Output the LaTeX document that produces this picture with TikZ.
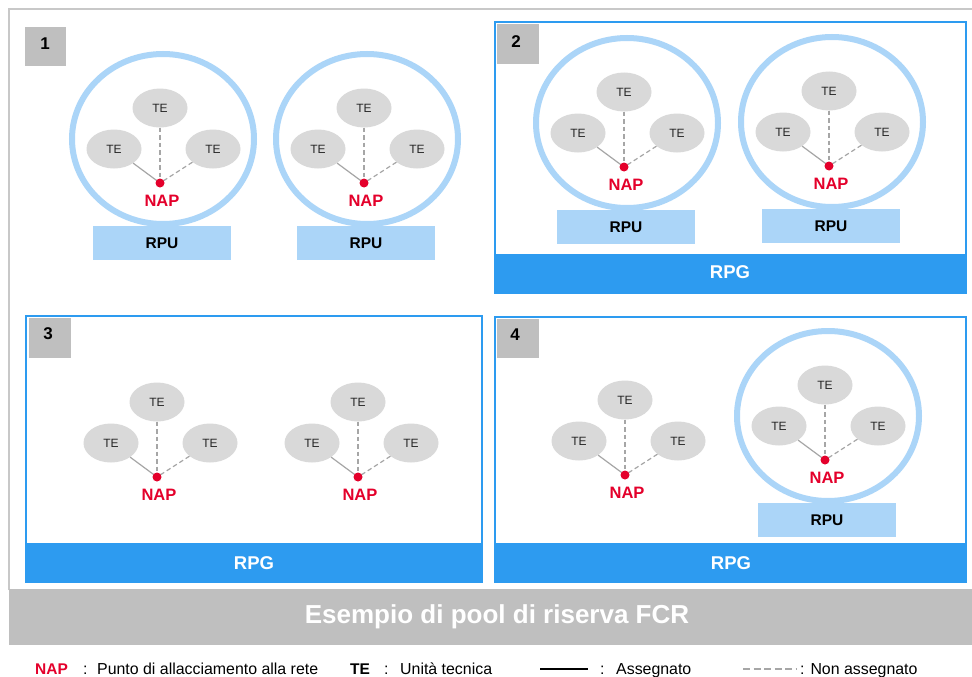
\documentclass[tikz,border=0pt]{standalone}
\usepackage{fontspec}
\setmainfont{Liberation Sans}
\usetikzlibrary{shapes.geometric}
\definecolor{lblue}{HTML}{ABD5F8}
\definecolor{fblue}{HTML}{2D9BF0}
\definecolor{tegray}{HTML}{D9D9D9}
\definecolor{boxgray}{HTML}{BFBFBF}
\definecolor{napred}{HTML}{E4002B}
\definecolor{lngray}{HTML}{A6A6A6}
\definecolor{framegray}{HTML}{C8C8C8}
\newcommand\fs[1]{\fontsize{#1}{#1}\selectfont}
\tikzset{
  teell/.style={ellipse, fill=tegray, minimum width=55pt, minimum height=39pt, inner sep=0pt, text=black!85, font=\fs{12}},
  napdot/.style={circle, fill=napred, minimum size=9pt, inner sep=0pt},
  naptxt/.style={text=napred, font=\fs{16.5}\bfseries, inner sep=0pt},
  solidln/.style={draw=lngray, line width=1.2pt},
  dashln/.style={draw=lngray, line width=1.2pt, dash pattern=on 4.5pt off 3pt},
  bigcirc/.style={ellipse, draw=lblue, line width=6pt, minimum width=182pt, minimum height=170pt, inner sep=0pt},
  rpubox/.style={rectangle, fill=lblue, minimum width=138pt, minimum height=34pt, inner sep=0pt, font=\fs{15.5}\bfseries},
  panelframe/.style={draw=fblue, line width=2.5pt},
  rpgbar/.style={fill=fblue},
  rpgtxt/.style={text=white, font=\fs{18.5}\bfseries, inner sep=0pt},
  numbox/.style={fill=boxgray},
  numtxt/.style={font=\fs{17}\bfseries, inner sep=0pt},
  legtxt/.style={font=\fs{15.9}, anchor=base west, inner sep=0pt},
}
% cluster of TE around NAP: name, x, y of the NAP dot
\newcommand\tecl[3]{%
  \node[teell] (#1t) at (#2,#3-75) {TE};
  \node[teell] (#1l) at (#2-46,#3-34) {TE};
  \node[teell] (#1r) at (#2+53,#3-34) {TE};
  \draw[solidln] (#1l) -- (#2,#3);
  \draw[dashln] (#1t) -- (#2,#3);
  \draw[dashln] (#1r) -- (#2,#3);
  \node[napdot] (#1d) at (#2,#3) {};
  \node[naptxt] (#1n) at (#2+2,#3+18) {NAP};
}
\newcommand\rpucl[3]{%
  \node[bigcirc] (#1c) at (#2+3,#3-44) {};
  \node[rpubox] (#1u) at (#2+2,#3+60) {RPU};
}
\begin{document}
\begin{tikzpicture}[x=1pt,y=-1pt]
\useasboundingbox (0,0) rectangle (972,677);
\fill[white] (0,0) rectangle (972,677);
% outer frame
\draw[framegray, line width=2pt] (9,590) -- (9,9) -- (980,9);
% banner
\fill[boxgray] (9,589) rectangle (980,645);
\node[text=white, font=\fs{26}\bfseries, inner sep=0pt] (title) at (497,617) {Esempio di pool di riserva FCR};
% panel 1
\fill[numbox] (25,27) rectangle (66,66);
\node[numtxt] (n1) at (45,44) {1};
\rpucl{a}{160}{183}
\tecl{a}{160}{183}
\rpucl{b}{364}{183}
\tecl{b}{364}{183}
% panel 2
\draw[panelframe] (495,22) rectangle (966,293);
\fill[rpgbar] (495,254) rectangle (966,293);
\node[rpgtxt] (g2) at (730,272) {RPG};
\fill[numbox] (497,24) rectangle (539,64);
\node[numtxt] (n2) at (516,42) {2};
\rpucl{c}{624}{167}
\tecl{c}{624}{167}
\rpucl{d}{829}{166}
\tecl{d}{829}{166}
% panel 3
\draw[panelframe] (26,316) rectangle (482,582);
\fill[rpgbar] (26,543) rectangle (482,582);
\node[rpgtxt] (g3) at (254,563) {RPG};
\fill[numbox] (29,318) rectangle (71,358);
\node[numtxt] (n3) at (48,334) {3};
\tecl{e}{157}{477}
\tecl{f}{358}{477}
% panel 4
\draw[panelframe] (495,317) rectangle (966,582);
\fill[rpgbar] (495,543) rectangle (966,582);
\node[rpgtxt] (g4) at (731,563) {RPG};
\fill[numbox] (497,319) rectangle (539,358);
\node[numtxt] (n4) at (515,335) {4};
\tecl{g}{625}{475}
\rpucl{h}{825}{460}
\tecl{h}{825}{460}
% legend
\node[legtxt, text=napred, font=\fs{15.5}\bfseries] (l1) at (35,674) {NAP};
\node[legtxt] (l2) at (83,674) {:};
\node[legtxt] (l3) at (97,674) {Punto di allacciamento alla rete};
\node[legtxt, font=\fs{15.5}\bfseries] (l4) at (350,674) {TE};
\node[legtxt] (l5) at (384,674) {:};
\node[legtxt] (l6) at (400,674) {Unità tecnica};
\coordinate (s1) at (540,669);
\coordinate (s2) at (588,669);
\draw[black, line width=2pt] (s1) -- (s2);
\node[legtxt] (l7) at (600,674) {:};
\node[legtxt] (l8) at (616,674) {Assegnato};
\coordinate (d1) at (743,669);
\coordinate (d2) at (796,669);
\draw[lngray, line width=2pt, dash pattern=on 7pt off 3.5pt] (d1) -- (d2);
\node[legtxt] (l9) at (800,674) {: Non assegnato};
\end{tikzpicture}
\end{document}
